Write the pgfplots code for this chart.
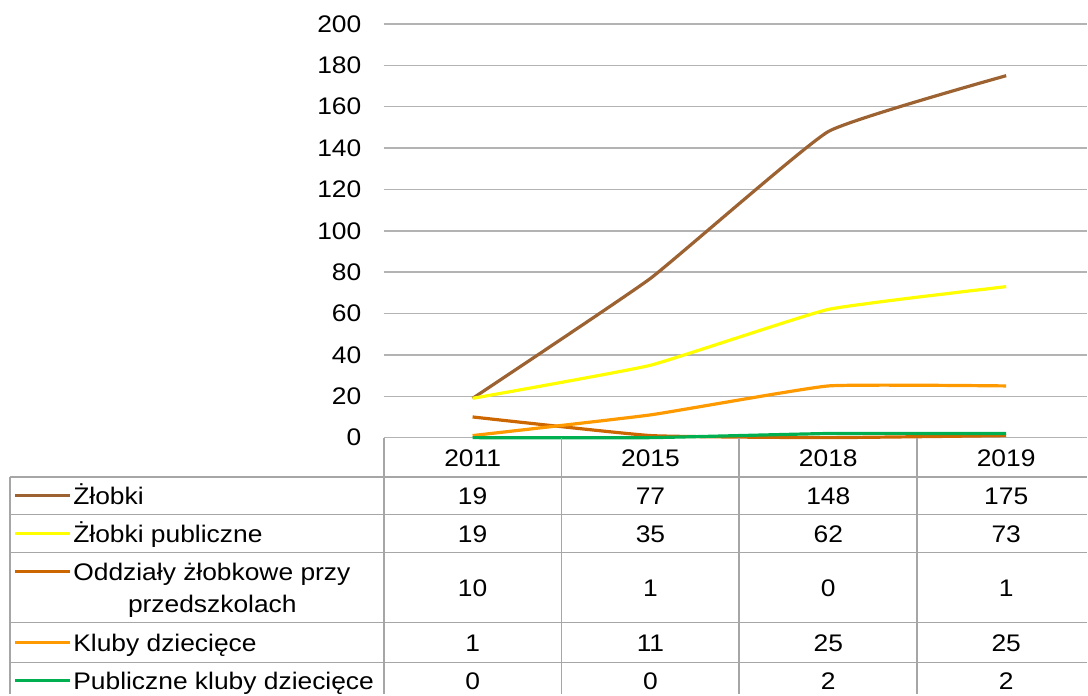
\documentclass[border=0pt]{standalone}
\usepackage{fontspec}
\setmainfont{Liberation Sans}[FakeStretch=1.1]
\usepackage{pgfplots}
\pgfplotsset{compat=1.18}
\definecolor{czlobki}{RGB}{156,98,50}
\definecolor{cpub}{RGB}{255,255,0}
\definecolor{codd}{RGB}{204,102,0}
\definecolor{ckluby}{RGB}{255,153,0}
\definecolor{cpkluby}{RGB}{0,176,80}
\definecolor{gridgray}{RGB}{179,179,179}
\definecolor{tabgray}{RGB}{166,166,166}
\newcommand{\tf}{\fontsize{12pt}{14pt}\selectfont}
\begin{document}
\tf
\begin{tikzpicture}
\begin{scope}[x=0.5pt,y=-0.5pt]
\useasboundingbox (0,0) rectangle (1088,695);
\end{scope}
\begin{axis}[at={(192pt,-219pt)}, anchor=south west, scale only axis,
  width=352pt, height=207pt,
  xmin=-0.5, xmax=3.4551, ymin=0, ymax=200,
  ytick={0,20,...,200}, xtick=\empty,
  axis line style={draw=none},
  ymajorgrids, major grid style={gridgray, line width=0.75pt},
  ytick style={draw=none},
  yticklabel style={font=\tf, anchor=east, inner sep=0pt, xshift=-11pt},
  /pgf/number format/assume math mode=true,
  clip=false,
  every axis plot/.append style={line width=1.6pt, smooth, tension=0.22, no marks}]
\addplot[czlobki] coordinates {(0,19)(1,77)(2,148)(3,175)};
\addplot[cpub] coordinates {(0,19)(1,35)(2,62)(3,73)};
\addplot[codd] coordinates {(0,10)(1,1)(2,0)(3,1)};
\addplot[ckluby] coordinates {(0,1)(1,11)(2,25)(3,25)};
\addplot[cpkluby] coordinates {(0,0)(1,0)(2,2)(3,2)};
\end{axis}
\begin{scope}[x=0.5pt,y=-0.5pt, every node/.style={font=\tf, inner sep=0pt}]
\foreach \yy in {477,515,553,623,663} \draw[tabgray, line width=0.9pt] (10,\yy) -- (1088,\yy);
\draw[tabgray, line width=0.9pt] (10,477) -- (10,695);
\foreach \xx in {384,562,740,918} \draw[tabgray, line width=0.9pt] (\xx,438.5) -- (\xx,695);
% header
\foreach \xx/\t in {473/2011,651/2015,829/2018,1007/2019}
  \node[anchor=base] at (\xx,466.8) {\t};
% legend keys
\draw[czlobki, line width=1.6pt] (15,496) -- (70,496);
\draw[cpub, line width=1.6pt] (15,534) -- (70,534);
\draw[codd, line width=1.6pt] (15,572) -- (70,572);
\draw[ckluby, line width=1.6pt] (15,643) -- (70,643);
\draw[cpkluby, line width=1.6pt] (15,681) -- (70,681);
\node[anchor=base west] at (73,504.6) {Żłobki};
\node[anchor=base west] at (73,542.6) {Żłobki publiczne};
\node[anchor=base west] at (73,580.6) {Oddziały żłobkowe przy};
\node[anchor=base] at (212.5,613) {przedszkolach};
\node[anchor=base west] at (73,651.6) {Kluby dziecięce};
\node[anchor=base west] at (73,689.6) {Publiczne kluby dziecięce};
% values
\foreach \xx/\t in {473/19,651/77,829/148,1007/175} \node[anchor=base] at (\xx,504.6) {\t};
\foreach \xx/\t in {473/19,651/35,829/62,1007/73} \node[anchor=base] at (\xx,542.6) {\t};
\foreach \xx/\t in {473/10,651/1,829/0,1007/1} \node[anchor=base] at (\xx,596.6) {\t};
\foreach \xx/\t in {473/1,651/11,829/25,1007/25} \node[anchor=base] at (\xx,651.6) {\t};
\foreach \xx/\t in {473/0,651/0,829/2,1007/2} \node[anchor=base] at (\xx,689.6) {\t};
\end{scope}
\end{tikzpicture}
\end{document}
